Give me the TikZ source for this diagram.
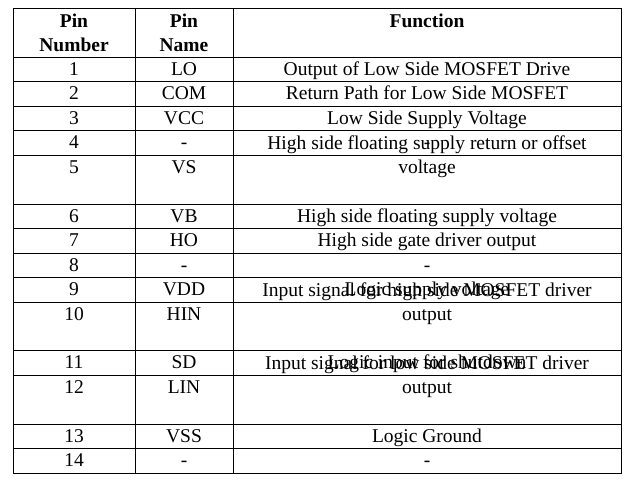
\documentclass[tikz,border=0pt]{standalone}
\usepackage{fontspec}
\setmainfont{Liberation Serif}
\begin{document}
\begin{tikzpicture}[x=1pt,y=-1pt,
  cell/.style={inner sep=0pt,align=center,font=\fontsize{19.5}{24}\selectfont},
  hcell/.style={cell,font=\fontsize{19.5}{24}\selectfont\bfseries},
  fcell/.style={cell,text height=15pt,text depth=5pt,anchor=north},
  grid/.style={line width=0.8pt}]
\useasboundingbox (0,0) rectangle (633,480);
\def\ys{{8,57.5,81.5,106,130.5,155,204,228.5,253,277.5,302,350.5,375,424,448.5,473}}
\draw[grid] (13.5,8) rectangle (621.5,473);
\draw[grid] (135,8) -- (135,473);
\draw[grid] (233,8) -- (233,473);
\foreach \i in {1,...,14}{
  \pgfmathsetmacro\yy{\ys[\i]}
  \draw[grid] (13.5,\yy) -- (621.5,\yy);
}
\node[hcell] (h1) at (74,32.5) {Pin\\Number};
\node[hcell] (h2) at (184,32.5) {Pin\\Name};
\node[hcell] (h3) at (427,21) {Function};
\foreach \n/\nm/\f [count=\i] in {
 1/LO/Output of Low Side MOSFET Drive,
 2/COM/Return Path for Low Side MOSFET,
 3/VCC/Low Side Supply Voltage,
 4/-/-,
 5/VS/{High side floating supply return or offset\\voltage},
 6/VB/High side floating supply voltage,
 7/HO/High side gate driver output,
 8/-/-,
 9/VDD/Logic supply voltage,
 10/HIN/{Input signal for high side MOSFET driver\\output},
 11/SD/Logic input for shutdown,
 12/LIN/{Input signal for low side MOSFET driver\\output},
 13/VSS/Logic Ground,
 14/-/-}{
  \pgfmathsetmacro\ya{\ys[\i]}
  \pgfmathsetmacro\yt{\ya+3}
  \node[fcell] (n\i) at (74,\yt) {\n};
  \node[fcell] (p\i) at (184,\yt) {\nm};
  \node[fcell] (f\i) at (427,\yt) {\f};
}
\end{tikzpicture}
\end{document}
